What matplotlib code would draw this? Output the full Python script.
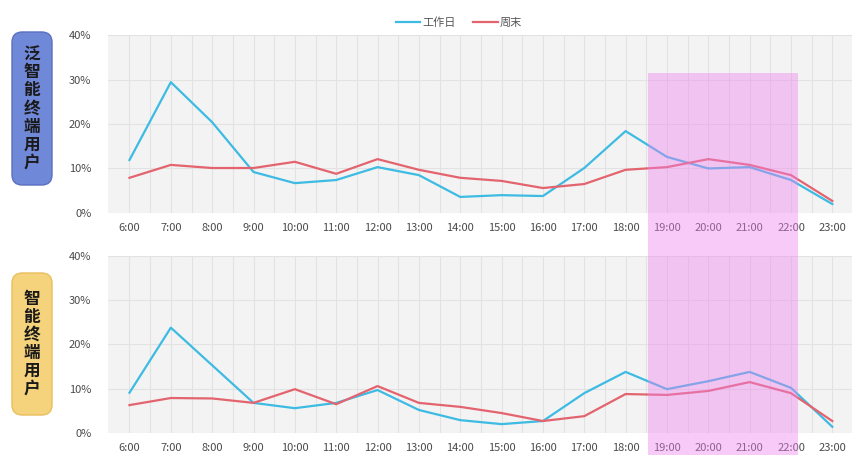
import matplotlib.pyplot as plt
from matplotlib.patches import FancyBboxPatch, Rectangle
from matplotlib.transforms import blended_transform_factory

plt.rcParams['font.family'] = ['Noto Sans CJK SC', 'DejaVu Sans']

hours = ['6:00', '7:00', '8:00', '9:00', '10:00', '11:00', '12:00', '13:00', '14:00',
         '15:00', '16:00', '17:00', '18:00', '19:00', '20:00', '21:00', '22:00', '23:00']

# 泛智能终端用户
pan_workday = [11.9, 29.4, 20.4, 9.2, 6.7, 7.4, 10.3, 8.5, 3.6,
               4.0, 3.8, 10.1, 18.4, 12.6, 10.0, 10.3, 7.4, 2.0]
pan_weekend = [7.9, 10.8, 10.1, 10.1, 11.5, 8.8, 12.1, 9.7, 7.9,
               7.2, 5.6, 6.5, 9.7, 10.3, 12.1, 10.8, 8.5, 2.7]
# 智能终端用户
smart_workday = [9.1, 23.8, 15.3, 6.8, 5.6, 6.8, 9.7, 5.2, 2.9,
                 2.0, 2.7, 9.0, 13.8, 9.9, 11.7, 13.8, 10.2, 1.4]
smart_weekend = [6.3, 7.9, 7.8, 6.8, 9.9, 6.5, 10.6, 6.8, 5.9,
                 4.5, 2.7, 3.8, 8.8, 8.6, 9.5, 11.5, 9.0, 2.7]

yticks = [0, 10, 20, 30, 40]
highlight = (12.55, 16.17)  # evening span, in category positions

blue = '#3dbbe3'
red = '#e3646e'

fig = plt.figure(figsize=(8.53, 4.55), dpi=100)
ax1 = fig.add_axes([0.1266, 0.532, 0.8734, 0.391])
ax2 = fig.add_axes([0.1266, 0.0484, 0.8734, 0.389])

x = list(range(len(hours)))
for ax, wd, we in [(ax1, pan_workday, pan_weekend), (ax2, smart_workday, smart_weekend)]:
    ax.set_facecolor('#f3f3f3')
    ax.plot(x, wd, color=blue, lw=1.6, label='工作日', zorder=3)
    ax.plot(x, we, color=red, lw=1.6, label='周末', zorder=3)
    ax.set_xlim(-0.52, 17.42)
    ax.set_ylim(0, 40)
    ax.set_xticks(x)
    ax.set_xticklabels(hours)
    ax.set_xticks([i + 0.5 for i in x], minor=True)
    ax.set_yticks(yticks)
    ax.set_yticklabels([f'{v}%' for v in yticks])
    ax.grid(True, which='both', axis='x', color='#e2e2e2', lw=0.8)
    ax.grid(True, which='major', axis='y', color='#e2e2e2', lw=0.8)
    ax.tick_params(which='both', length=0, labelsize=8, colors='#4a4a4a', pad=7)
    ax.tick_params(axis='y', pad=12)
    for s in ax.spines.values():
        s.set_visible(False)

leg = ax1.legend(loc='lower center', bbox_to_anchor=(0.471, 1.0), ncol=2, frameon=False,
                 fontsize=8, handlelength=2.2, columnspacing=1.6, handletextpad=0.2,
                 borderaxespad=0.2)
for t in leg.get_texts():
    t.set_color('#555555')

# evening highlight across both panels
trans = blended_transform_factory(ax1.transData, fig.transFigure)
fig.patches.append(Rectangle((highlight[0], 0), highlight[1] - highlight[0], 1 - 73 / 455,
                             transform=trans, facecolor='#ee82ee', alpha=0.42,
                             edgecolor='none', zorder=5, figure=fig))

# group tags on the left
tags = [('泛智能终端用户', '#7088d8', '#5a6fc0', 32, 185),
        ('智能终端用户', '#f5d27c', '#e8be5c', 273, 415)]
for text, fc, ec, top, bottom in tags:
    y0 = 1 - bottom / 455
    h = (bottom - top) / 455
    box = FancyBboxPatch((12 / 853, y0), 40 / 853, h,
                         boxstyle='round,pad=0,rounding_size=0.012',
                         transform=fig.transFigure, facecolor=fc, edgecolor=ec,
                         lw=1, mutation_aspect=853 / 455, figure=fig)
    fig.patches.append(box)
    fig.text(32 / 853, y0 + h / 2, '\n'.join(text), ha='center', va='center',
             fontsize=12, fontweight='bold', color='#1a1a1a', linespacing=1.0)

fig.savefig('out.png', dpi=100)
